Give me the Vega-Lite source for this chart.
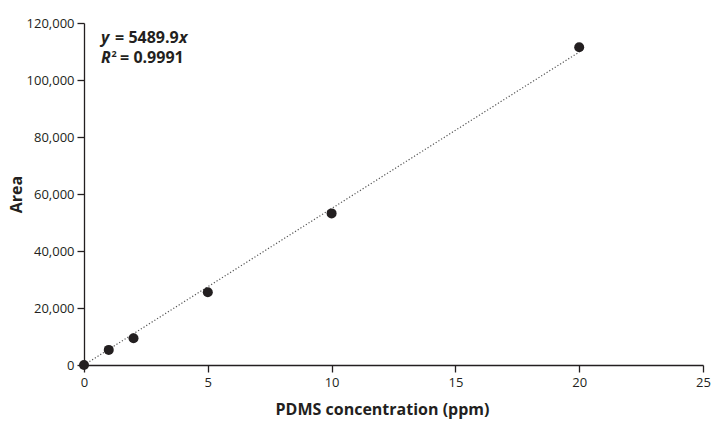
{
  "$schema": "https://vega.github.io/schema/vega-lite/v6.json",
  "width": 619,
  "height": 342,
  "autosize": {"type": "none"},
  "padding": {"left": 84, "top": 23, "right": 16, "bottom": 65},
  "background": "white",
  "config": {
    "view": {"stroke": null},
    "font": "Open Sans",
    "axis": {
      "grid": false,
      "labelFlush": false,
      "domainColor": "#231f20",
      "tickColor": "#231f20",
      "domainWidth": 1.3,
      "tickWidth": 1.3,
      "tickSize": 7,
      "labelFont": "Open Sans",
      "labelFontSize": 13,
      "labelColor": "#231f20",
      "titleFont": "Open Sans",
      "titleFontWeight": "bold",
      "titleFontSize": 16,
      "titleColor": "#231f20"
    }
  },
  "datasets": {
    "points": [
      {"conc": 0, "area": 0},
      {"conc": 1, "area": 5300},
      {"conc": 2, "area": 9400},
      {"conc": 5, "area": 25500},
      {"conc": 10, "area": 53200},
      {"conc": 20, "area": 111500}
    ],
    "fit": [
      {"conc": 0, "area": 0},
      {"conc": 20, "area": 109798}
    ],
    "eq": [{"conc": 0.69, "area": 112982}],
    "r2": [{"conc": 0.69, "area": 105965}]
  },
  "layer": [
    {
      "data": {"name": "fit"},
      "mark": {"type": "line", "stroke": "#555555", "strokeWidth": 1.2, "strokeDash": [1.2, 2]},
      "encoding": {
        "x": {"field": "conc", "type": "quantitative", "scale": {"domain": [0, 25], "nice": false},
          "axis": {"values": [0, 5, 10, 15, 20, 25], "title": "PDMS concentration (ppm)", "titlePadding": 12, "labelPadding": 4, "titleX": 298}},
        "y": {"field": "area", "type": "quantitative", "scale": {"domain": [0, 120000], "nice": false},
          "axis": {"values": [0, 20000, 40000, 60000, 80000, 100000, 120000], "format": ",d", "title": "Area", "titlePadding": 2, "labelPadding": 3}}
      }
    },
    {
      "data": {"name": "points"},
      "mark": {"type": "circle", "size": 100, "color": "#231f20", "opacity": 1},
      "encoding": {
        "x": {"field": "conc", "type": "quantitative"},
        "y": {"field": "area", "type": "quantitative"}
      }
    },
    {
      "data": {"name": "eq"},
      "mark": {"type": "text", "text": "y", "fontStyle": "italic", "fontWeight": "bold", "fontSize": 16, "align": "left", "baseline": "alphabetic", "color": "#231f20"},
      "encoding": {"x": {"field": "conc", "type": "quantitative"}, "y": {"field": "area", "type": "quantitative"}}
    },
    {
      "data": {"name": "eq"},
      "mark": {"type": "text", "text": "= 5489.9", "fontWeight": "bold", "fontSize": 16, "align": "left", "baseline": "alphabetic", "dx": 14, "color": "#231f20"},
      "encoding": {"x": {"field": "conc", "type": "quantitative"}, "y": {"field": "area", "type": "quantitative"}}
    },
    {
      "data": {"name": "eq"},
      "mark": {"type": "text", "text": "x", "fontStyle": "italic", "fontWeight": "bold", "fontSize": 16, "align": "left", "baseline": "alphabetic", "dx": 78, "color": "#231f20"},
      "encoding": {"x": {"field": "conc", "type": "quantitative"}, "y": {"field": "area", "type": "quantitative"}}
    },
    {
      "data": {"name": "r2"},
      "mark": {"type": "text", "text": "R", "fontStyle": "italic", "fontWeight": "bold", "fontSize": 16, "align": "left", "baseline": "alphabetic", "color": "#231f20"},
      "encoding": {"x": {"field": "conc", "type": "quantitative"}, "y": {"field": "area", "type": "quantitative"}}
    },
    {
      "data": {"name": "r2"},
      "mark": {"type": "text", "text": "2", "fontWeight": "bold", "fontSize": 9, "align": "left", "baseline": "alphabetic", "dx": 10.5, "dy": -6, "color": "#231f20"},
      "encoding": {"x": {"field": "conc", "type": "quantitative"}, "y": {"field": "area", "type": "quantitative"}}
    },
    {
      "data": {"name": "r2"},
      "mark": {"type": "text", "text": "= 0.9991", "fontWeight": "bold", "fontSize": 16, "align": "left", "baseline": "alphabetic", "dx": 19, "color": "#231f20"},
      "encoding": {"x": {"field": "conc", "type": "quantitative"}, "y": {"field": "area", "type": "quantitative"}}
    }
  ]
}
